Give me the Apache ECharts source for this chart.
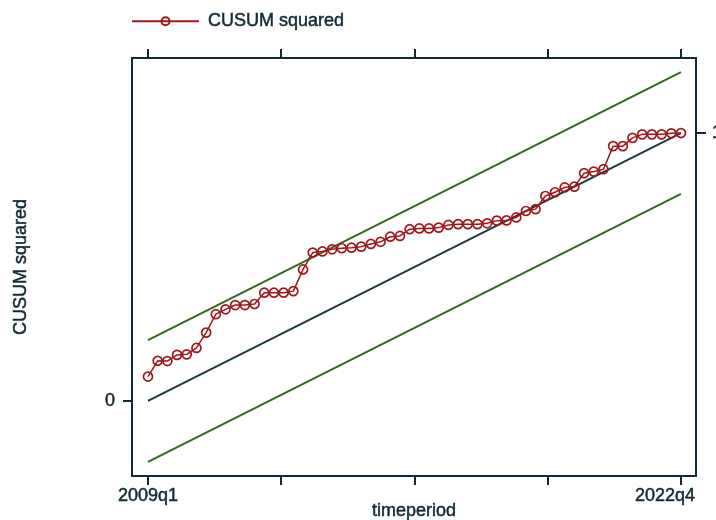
<!DOCTYPE html>
<html>
<head>
<meta charset="utf-8">
<script src="https://cdn.jsdelivr.net/npm/echarts@6/dist/echarts.min.js"></script>
<style>
  html, body { margin: 0; padding: 0; background: #fff; }
  #chart-container { width: 716px; height: 520px; }
</style>
</head>
<body>
<div id="chart-container"></div>
<script>
// quarters 2009q1 .. 2022q4, index 0..55
var periodLabels = ['2009q1', '2022q4'];
var periodTicks = [0, 13.75, 27.5, 41.25, 55];
var cusumSq = [
  0.091, 0.150, 0.149, 0.172, 0.174, 0.198, 0.255, 0.324, 0.342, 0.358,
  0.358, 0.362, 0.404, 0.404, 0.404, 0.410, 0.491, 0.554, 0.558, 0.566,
  0.570, 0.572, 0.576, 0.586, 0.594, 0.613, 0.616, 0.641, 0.644, 0.644,
  0.647, 0.657, 0.660, 0.660, 0.660, 0.663, 0.673, 0.674, 0.685, 0.709,
  0.716, 0.765, 0.779, 0.797, 0.800, 0.850, 0.856, 0.865, 0.951, 0.951,
  0.982, 0.995, 0.995, 0.995, 0.999, 1.000
];
var lineEnds = [0, 55];
var expected = [0, 1];
var upperBound = [0.227, 1.227];
var lowerBound = [-0.227, 0.773];

var dom = document.getElementById('chart-container');
var myChart = echarts.init(dom, null, { renderer: 'canvas' });

var ink = '#122a35';
var font = 'Liberation Sans, Arial, sans-serif';
// slightly heavier text, like the original export
var txt = { fontSize: 18, color: ink, fontFamily: font, textBorderColor: ink, textBorderWidth: 0.5 };

function pairs(xs, ys) {
  return ys.map(function (v, i) { return [xs[i], v]; });
}

var axisBase = {
  type: 'value',
  min: -1.65,
  max: 56.55,
  splitLine: { show: false },
  axisLine: { show: true, onZero: false, lineStyle: { color: ink, width: 2 } },
  axisTick: { show: true, length: 9, lineStyle: { color: ink, width: 2 }, customValues: periodTicks }
};

var option = {
  backgroundColor: '#fff',
  animation: false,
  textStyle: { fontFamily: font },
  legend: {
    left: 126,
    top: 7,
    itemWidth: 67,
    itemHeight: 10,
    data: ['CUSUM squared'],
    textStyle: Object.assign({ padding: [0, 0, 0, 4] }, txt)
  },
  grid: { left: 132, right: 20, top: 58, bottom: 44, outerBoundsMode: 'none' },
  xAxis: [
    Object.assign({}, axisBase, {
      position: 'bottom',
      name: 'timeperiod',
      nameLocation: 'middle',
      nameGap: 26,
      nameMoveOverlap: false,
      nameTextStyle: txt,
      axisLabel: Object.assign({
        show: true,
        margin: 11,
        customValues: [0, 56.45],
        alignMaxLabel: 'right',
        formatter: function (v) { return v < 1 ? periodLabels[0] : periodLabels[1]; }
      }, txt)
    }),
    Object.assign({}, axisBase, {
      position: 'top',
      axisLabel: { show: false }
    })
  ],
  yAxis: [
    {
      type: 'value',
      position: 'left',
      min: -0.28,
      max: 1.28,
      name: 'CUSUM squared',
      nameLocation: 'middle',
      nameGap: 102,
      nameRotate: 90,
      nameMoveOverlap: false,
      nameTextStyle: txt,
      splitLine: { show: false },
      axisLine: { show: true, onZero: false, lineStyle: { color: ink, width: 2 } },
      axisTick: { show: true, length: 9, lineStyle: { color: ink, width: 2 }, customValues: [0] },
      axisLabel: Object.assign({ margin: 17, customValues: [0] }, txt)
    },
    {
      type: 'value',
      position: 'right',
      min: -0.28,
      max: 1.28,
      splitLine: { show: false },
      axisLine: { show: true, onZero: false, lineStyle: { color: ink, width: 2 } },
      axisTick: { show: true, length: 10, lineStyle: { color: ink, width: 2 }, customValues: [1] },
      axisLabel: Object.assign({ margin: 16, customValues: [1] }, txt)
    }
  ],
  series: [
    {
      name: 'upper',
      type: 'line',
      data: pairs(lineEnds, upperBound),
      symbol: 'none',
      lineStyle: { color: '#2f6b1f', width: 2 },
      silent: true
    },
    {
      name: 'lower',
      type: 'line',
      data: pairs(lineEnds, lowerBound),
      symbol: 'none',
      lineStyle: { color: '#2f6b1f', width: 2 },
      silent: true
    },
    {
      name: 'expected',
      type: 'line',
      data: pairs(lineEnds, expected),
      symbol: 'none',
      lineStyle: { color: '#1b3a44', width: 2 },
      silent: true
    },
    {
      name: 'CUSUM squared',
      type: 'line',
      data: cusumSq.map(function (v, i) { return [i, v]; }),
      symbol: 'circle',
      symbolSize: 9,
      showAllSymbol: true,
      lineStyle: { color: '#a3171c', width: 1.5 },
      itemStyle: { color: 'rgba(255,255,255,0)', borderColor: '#a3171c', borderWidth: 1.7 },
      z: 5
    }
  ]
};

myChart.setOption(option);
window.addEventListener('resize', myChart.resize);
</script>
</body>
</html>
